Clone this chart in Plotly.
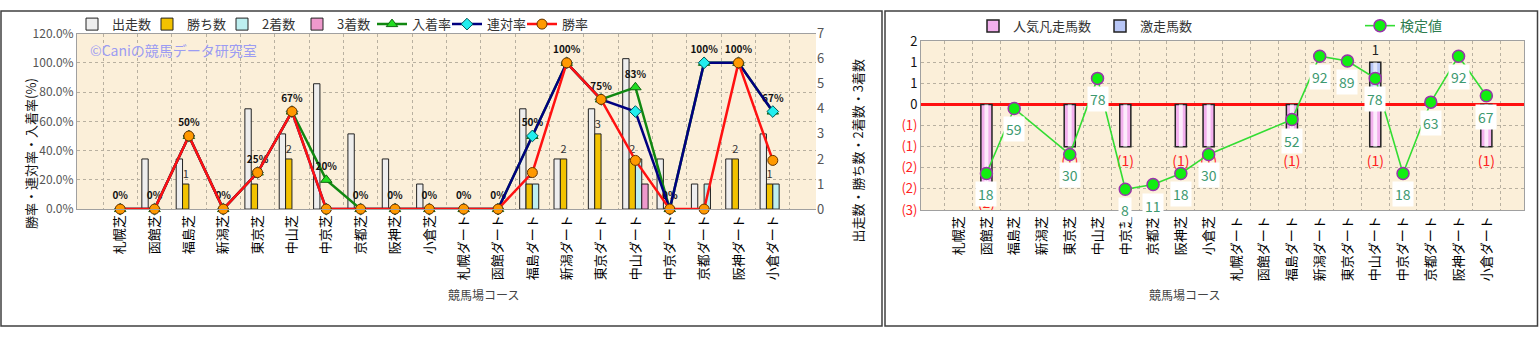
import plotly.graph_objects as go

categories = ["札幌芝", "函館芝", "福島芝", "新潟芝", "東京芝", "中山芝", "中京芝", "京都芝", "阪神芝", "小倉芝",
              "札幌ダート", "函館ダート", "福島ダート", "新潟ダート", "東京ダート", "中山ダート", "中京ダート",
              "京都ダート", "阪神ダート", "小倉ダート"]

starts = [0, 2, 2, 0, 4, 3, 5, 3, 2, 1, 0, 0, 4, 2, 4, 6, 2, 1, 2, 3]
wins = [0, 0, 1, 0, 1, 2, 0, 0, 0, 0, 0, 0, 1, 2, 3, 2, 0, 0, 2, 1]
seconds = [0, 0, 0, 0, 0, 0, 0, 0, 0, 0, 0, 0, 1, 0, 0, 2, 0, 1, 0, 1]
thirds = [0, 0, 0, 0, 0, 0, 0, 0, 0, 0, 0, 0, 0, 0, 0, 1, 0, 0, 0, 0]

win_rate = [0, 0, 0.5, 0, 0.25, 0.667, 0, 0, 0, 0, 0, 0, 0.25, 1.0, 0.75, 0.333, 0, 0, 1.0, 0.333]
rentai_rate = [0, 0, 0.5, 0, 0.25, 0.667, 0, 0, 0, 0, 0, 0, 0.5, 1.0, 0.75, 0.667, 0, 1.0, 1.0, 0.667]
nyuchaku_rate = [0, 0, 0.5, 0, 0.25, 0.667, 0.2, 0, 0, 0, 0, 0, 0.5, 1.0, 0.75, 0.833, 0, 1.0, 1.0, 0.667]
rate_labels = ["0%", "0%", "50%", "0%", "25%", "67%", "20%", "0%", "0%", "0%", "0%", "0%", "50%", "100%",
               "75%", "83%", "0%", "100%", "100%", "67%"]

ninki_bonso = [0, 2, 0, 0, 1, 0, 1, 0, 1, 1, 0, 0, 1, 0, 0, 1, 0, 0, 0, 1]
gekiso = [0, 0, 0, 0, 0, 0, 0, 0, 0, 0, 0, 0, 0, 0, 0, 1, 0, 0, 0, 0]
kentei = [None, 18, 59, None, 30, 78, 8, 11, 18, 30, None, None, 52, 92, 89, 78, 18, 63, 92, 67]

left_pct_ticks = [0, 0.2, 0.4, 0.6, 0.8, 1.0, 1.2]
right_count_ticks = [0, 1, 2, 3, 4, 5, 6, 7]
r_tick_vals = [1.5, 1, 0.5, 0, -0.5, -1, -1.5, -2, -2.5]
r_tick_text = ["2", "1", "1", "0", "(1)", "(1)", "(2)", "(2)", "(3)"]

W, H = 1539, 337
FONT = "Noto Sans CJK JP"


def px_x(p):
    return p / W


def px_y(p):
    return 1 - p / H


def nz(vals, sign=1):
    """zero-height bars are not drawn"""
    return [sign * v if v else None for v in vals]


fig = go.Figure()

# ---------- left chart: bars (main subplot x / y) ----------
bar_specs = [
    ("出走数", starts, "#EEEEEE", -0.37),
    ("勝ち数", wins, "#F2C200", -0.185),
    ("2着数", seconds, "#BDEFF0", 0.0),
    ("3着数", thirds, "#EE99CC", 0.185),
]
for name, vals, color, off in bar_specs:
    fig.add_trace(go.Bar(
        x=categories, y=nz(vals), name=name, xaxis="x", yaxis="y",
        marker=dict(color=color, line=dict(color="#222222", width=1)),
        width=0.185, offset=off, legend="legend",
        text=[str(v) if (name == "勝ち数" and v > 0) else "" for v in vals],
        textposition="outside", constraintext="none", cliponaxis=False,
        textfont=dict(size=11, color="#333333", family=FONT),
    ))

# ---------- left chart: lines (overlay y2) ----------
fig.add_trace(go.Scatter(
    x=categories, y=nyuchaku_rate, name="入着率", xaxis="x", yaxis="y2", legend="legend",
    mode="lines+markers+text", text=rate_labels, textposition="top center",
    textfont=dict(size=10, color="#111111", family=FONT, weight="bold"),
    line=dict(color="#118811", width=2.5),
    marker=dict(symbol="triangle-up", size=10, color="#22DD22", line=dict(color="#116611", width=1)),
    cliponaxis=False,
))
fig.add_trace(go.Scatter(
    x=categories, y=rentai_rate, name="連対率", xaxis="x", yaxis="y2", legend="legend",
    mode="lines+markers",
    line=dict(color="#000080", width=2.5),
    marker=dict(symbol="diamond", size=9, color="#22EEEE", line=dict(color="#005555", width=1)),
    cliponaxis=False,
))
fig.add_trace(go.Scatter(
    x=categories, y=win_rate, name="勝率", xaxis="x", yaxis="y2", legend="legend",
    mode="lines+markers",
    line=dict(color="#FF1111", width=2.5),
    marker=dict(symbol="circle", size=10, color="#FF9900", line=dict(color="#663300", width=1)),
    cliponaxis=False,
))

# ---------- right chart: bars (x2 / y3) ----------
fig.add_trace(go.Bar(
    x=categories, y=nz(ninki_bonso, -1), name="人気凡走馬数", xaxis="x2", yaxis="y3",
    legend="legend2", width=0.4, offset=-0.2,
    marker=dict(color="#F3B0EE", line=dict(color="#222222", width=1.5)),
    text=[f"({v})" if v > 0 else "" for v in ninki_bonso], textposition="outside",
    constraintext="none", cliponaxis=False,
    textfont=dict(size=14, color="#FF2020", family=FONT),
))
fig.add_trace(go.Bar(
    x=categories, y=nz(gekiso), name="激走馬数", xaxis="x2", yaxis="y3",
    legend="legend2", width=0.4, offset=-0.2,
    marker=dict(color="#B8C6F6", line=dict(color="#222222", width=1.5)),
    text=[str(v) if v > 0 else "" for v in gekiso], textposition="outside",
    constraintext="none", cliponaxis=False,
    textfont=dict(size=13, color="#222222", family=FONT),
))
# highlight (cylinder look)
fig.add_trace(go.Bar(
    x=categories, y=nz(ninki_bonso, -1), xaxis="x2", yaxis="y3", showlegend=False,
    width=0.14, offset=-0.07, hoverinfo="skip",
    marker=dict(color="rgba(255,255,255,0.75)", line=dict(width=0)),
))
fig.add_trace(go.Bar(
    x=categories, y=nz(gekiso), xaxis="x2", yaxis="y3", showlegend=False,
    width=0.14, offset=-0.07, hoverinfo="skip",
    marker=dict(color="rgba(255,255,255,0.6)", line=dict(width=0)),
))

# ---------- right chart: 検定値 line (overlay y4) ----------
fig.add_trace(go.Scatter(
    x=categories, y=kentei, name="検定値", xaxis="x2", yaxis="y4", legend="legend3",
    mode="lines+markers", connectgaps=True,
    line=dict(color="#33DD33", width=1.6),
    marker=dict(symbol="circle", size=12, color="#11EE11", line=dict(color="#9933AA", width=1.5)),
    cliponaxis=False,
))

annotations = []
for c, v in zip(categories, kentei):
    if v is None:
        continue
    annotations.append(dict(
        x=c, y=v, xref="x2", yref="y4", text=str(v), showarrow=False, yshift=-21,
        bgcolor="white", borderpad=2, font=dict(size=14, color="#3D9970", family=FONT),
    ))

annotations += [
    dict(x=px_x(88), y=px_y(42), xref="paper", yref="paper", xanchor="left", yanchor="middle",
         text="©Caniの競馬データ研究室", showarrow=False,
         font=dict(size=14, color="#9C9CF2", family=FONT)),
    dict(x=px_x(19), y=px_y(152), xref="paper", yref="paper", textangle=-90,
         text="勝率・連対率・入着率(%)", showarrow=False,
         font=dict(size=13, color="#111111", family=FONT)),
    dict(x=px_x(858), y=px_y(150), xref="paper", yref="paper", textangle=-90,
         text="出走数・勝ち数・2着数・3着数", showarrow=False,
         font=dict(size=13, color="#111111", family=FONT)),
    dict(x=px_x(446), y=px_y(313), xref="paper", yref="paper",
         text="競馬場コース", showarrow=False, font=dict(size=12, color="#444444", family=FONT)),
    dict(x=px_x(1222), y=px_y(313), xref="paper", yref="paper",
         text="競馬場コース", showarrow=False, font=dict(size=12, color="#444444", family=FONT)),
]

shapes = [
    dict(type="rect", xref="paper", yref="paper", x0=px_x(1), x1=px_x(882), y0=px_y(335), y1=px_y(1),
         line=dict(color="#404040", width=1.5), layer="below"),
    dict(type="rect", xref="paper", yref="paper", x0=px_x(885), x1=px_x(1537.5), y0=px_y(335), y1=px_y(1),
         line=dict(color="#404040", width=1.5), layer="below"),
]

ticktext_r = [f'<span style="color:#FF2020">{t}</span>' if t.startswith("(") else t for t in r_tick_text]

grid = dict(showgrid=True, gridcolor="#B8B0A0", griddash="dot", gridwidth=1)

fig.update_layout(
    width=W, height=H, autosize=False,
    margin=dict(l=0, r=0, t=0, b=0),
    paper_bgcolor="white", plot_bgcolor="#FBEFD9",
    font=dict(family=FONT, color="#222222"),
    barmode="overlay",
    showlegend=True,
    xaxis=dict(domain=[px_x(77), px_x(816)], anchor="y", type="category", tickson="boundaries",
               tickangle=-90, tickfont=dict(size=13, color="#000000", family=FONT),
               showline=True, linecolor="#A0A0A0", mirror=True, ticks="", **grid),
    yaxis=dict(domain=[px_y(211), px_y(25)], anchor="x", range=[0, 7], side="right",
               tickvals=right_count_ticks, showgrid=False, zeroline=False,
               tickfont=dict(size=13, color="#555555"), showline=False, ticks=""),
    yaxis2=dict(overlaying="y", anchor="x", side="left", range=[0, 1.2], tickvals=left_pct_ticks,
                tickformat=".1%", tickfont=dict(size=12, color="#555555"), zeroline=False,
                showline=True, linecolor="#A0A0A0", ticks="", **grid),
    xaxis2=dict(domain=[px_x(921), px_x(1524)], anchor="y3", type="category", tickson="boundaries",
                tickangle=-90, tickfont=dict(size=13, color="#000000", family=FONT),
                showline=True, linecolor="#A0A0A0", mirror=True, ticks="", **grid),
    yaxis3=dict(domain=[px_y(212), px_y(33)], anchor="x2", range=[-2.5, 1.5],
                tickvals=r_tick_vals, ticktext=ticktext_r, tickfont=dict(size=13, color="#111111"),
                zeroline=True, zerolinecolor="#FF1010", zerolinewidth=3,
                showline=True, linecolor="#A0A0A0", mirror=True, ticks="", **grid),
    yaxis4=dict(overlaying="y3", anchor="x2", range=[-5.1, 101.5], visible=False),
    legend=dict(orientation="h", x=px_x(72), y=px_y(15), xanchor="left", yanchor="middle",
                font=dict(size=13, color="#333333"), bgcolor="rgba(0,0,0,0)",
                itemwidth=30, traceorder="normal", entrywidth=30, entrywidthmode="pixels"),
    legend2=dict(orientation="h", x=px_x(973), y=px_y(17), xanchor="left", yanchor="middle",
                 font=dict(size=13, color="#333333"), bgcolor="rgba(0,0,0,0)", itemwidth=30,
                 entrywidth=82, entrywidthmode="pixels"),
    legend3=dict(orientation="h", x=px_x(1360), y=px_y(17), xanchor="left", yanchor="middle",
                 font=dict(size=14, color="#2E7D4F"), bgcolor="rgba(0,0,0,0)", itemwidth=30),
    annotations=annotations,
    shapes=shapes,
)

fig.write_html("out.html")
